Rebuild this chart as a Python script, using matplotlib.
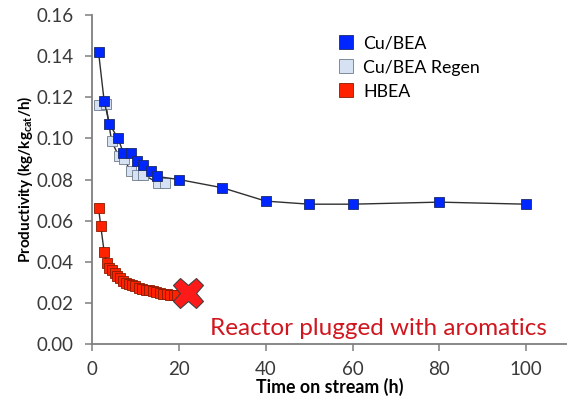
import matplotlib
matplotlib.use("Agg")
import matplotlib.pyplot as plt

plt.rcParams['font.family'] = ['Lato', 'DejaVu Sans']

cu_x = [1.5, 2.8, 4.0, 6.0, 7.2, 8.9, 10.4, 11.8, 13.5, 14.9, 20, 30, 40, 50, 60, 80, 100]
cu_y = [0.142, 0.118, 0.107, 0.100, 0.093, 0.093, 0.089, 0.087, 0.084, 0.0815, 0.080,
        0.076, 0.0695, 0.068, 0.068, 0.069, 0.068]

regen_x = [1.5, 3.2, 4.5, 6.1, 7.4, 8.9, 10.4, 11.8, 15.3, 16.8]
regen_y = [0.116, 0.1166, 0.0987, 0.0916, 0.090, 0.084, 0.0823, 0.0823, 0.0783, 0.0783]

hbea_x = [1.5, 2.0, 2.8, 3.4, 4.0, 4.6, 5.2, 5.8, 6.5, 7.2, 7.9, 8.6, 9.3, 10.0, 10.8,
          11.6, 12.4, 13.2, 14.0, 14.8, 15.6, 16.4, 17.2, 18.0, 18.8, 19.5]
hbea_y = [0.0663, 0.0575, 0.0447, 0.0394, 0.0372, 0.0358, 0.0345, 0.0333, 0.0320, 0.0308,
          0.0298, 0.0290, 0.0285, 0.0280, 0.0274, 0.0269, 0.0265, 0.0261, 0.0256, 0.0252,
          0.0248, 0.0245, 0.0242, 0.0240, 0.0239, 0.0239]

plug_x = [22]
plug_y = [0.0247]

xticks = [0, 20, 40, 60, 80, 100]
yticks = [0.00, 0.02, 0.04, 0.06, 0.08, 0.10, 0.12, 0.14, 0.16]

fig = plt.figure(figsize=(5.67, 4.01), dpi=100)
ax = fig.add_axes([0.1623, 0.1421, 0.8377, 0.8205])

ms = 6.7
ax.plot(cu_x, cu_y, '-', color='#303030', lw=1.0, marker='s', ms=ms,
        mfc='#0026FF', mec='#1a2a6a', mew=0.6, label='Cu/BEA', zorder=4)
ax.plot(regen_x, regen_y, '-', color='#303030', lw=1.0, marker='s', ms=ms,
        mfc='#D6E2F3', mec='#6d7a8a', mew=0.6, label='Cu/BEA Regen', zorder=3)
ax.plot(hbea_x, hbea_y, '-', color='#303030', lw=1.0, marker='s', ms=ms,
        mfc='#FF2200', mec='#8a1a00', mew=0.6, label='HBEA', zorder=3)
ax.plot(plug_x, plug_y, linestyle='none', marker='X', ms=22, mfc='#FF1A1A',
        mec='#404040', mew=0.8, zorder=5)

ax.text(65.9, 0.0077, 'Reactor plugged with aromatics', color='#D0161E',
        fontsize=17.5, ha='center', va='center')

ax.set_xlim(0, 109.4)
ax.set_ylim(0, 0.16)
ax.set_xticks(xticks)
ax.set_yticks(yticks)
ax.set_yticklabels([f'{v:.2f}' for v in yticks])

for s in ['top', 'right']:
    ax.spines[s].set_visible(False)
for s in ['left', 'bottom']:
    ax.spines[s].set_color('#7f7f7f')
    ax.spines[s].set_linewidth(1.3)
ax.tick_params(axis='both', direction='out', length=5, width=1.1, color='#7f7f7f',
               labelsize=13.5, labelcolor='#3a3a3a')
ax.tick_params(axis='x', pad=7)
ax.tick_params(axis='y', pad=8.5)

ax.set_xlabel('Time on stream (h)', fontsize=12.8, fontweight='bold', labelpad=0)
ax.set_ylabel('Productivity (kg/kg$_{\\mathregular{cat}}$/h)', fontsize=11,
              fontweight='bold', labelpad=1)

leg = ax.legend(loc='upper left', bbox_to_anchor=(0.485, 0.986), frameon=False,
                fontsize=12.8, handlelength=0.9, handletextpad=0.5, labelspacing=0.45)
for h in leg.legend_handles:
    h.set_linestyle('none')
    h.set_markersize(9.5)

fig.savefig('out.png', dpi=100)
